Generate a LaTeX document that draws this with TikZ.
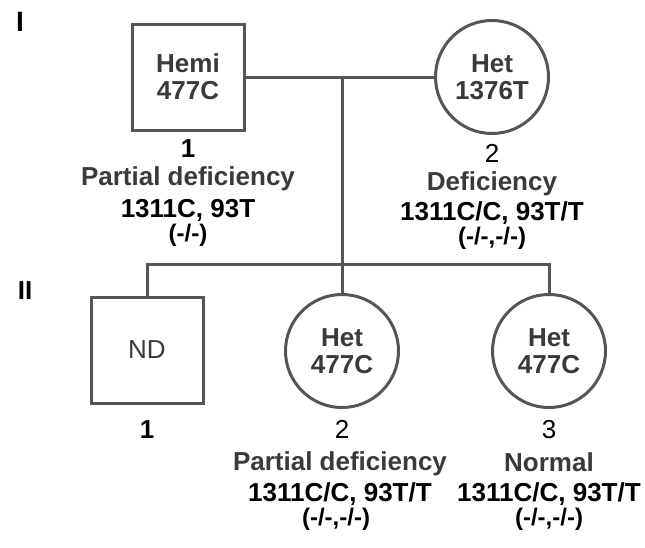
\documentclass[tikz,border=0pt]{standalone}
\usepackage{fontspec}
\setmainfont{Liberation Sans}
\usetikzlibrary{positioning,calc}
\definecolor{pedline}{HTML}{555555}
\definecolor{pedtext}{HTML}{3A3A3A}

\begin{document}
\begin{tikzpicture}[x=1pt,y=-1pt,
    font=\fontsize{26}{27}\selectfont\bfseries,
    ind/.style={draw=pedline, line width=3pt, inner sep=0pt, align=center, text=pedtext},
    male/.style={ind, rectangle, minimum width=112pt, minimum height=106pt},
    female/.style={ind, circle, minimum size=113pt},
    lab/.style={anchor=base, inner sep=0pt, text=pedtext},
    gen/.style={anchor=base, inner sep=0pt, text=black},
    alle/.style={gen, font=\fontsize{24}{26}\selectfont\bfseries},
    thin/.style={font=\fontsize{26}{27}\selectfont\mdseries},
    link/.style={draw=pedline, line width=3pt}]
            % Page frame
            \fill[white] (0,0) rectangle (645,547);
            \useasboundingbox (0,0) rectangle (645,547);

            % Generation labels
            \node[gen, font=\fontsize{28}{30}\selectfont\bfseries] (genI) at (20,31) {I};
            \node[gen] (genII) at (25,299) {II};

            % Parents
            \node[male] (p1) at (188,77) {Hemi\\477C};
            \node[female] (p2) at (492,77) {Het\\1376T};
            \coordinate (mate) at (342,77);
            \draw[link] (p1.east) -- (p2.west);

            % Children
            \node[male, thin, text=pedtext] (c1) at (147,350) {ND};
            \node[female] (c2) at (342,351) {Het\\477C};
            \node[female] (c3) at (549,351) {Het\\477C};
            \coordinate (sib) at (342,264);
            \draw[link] (mate) -- (c2.north);
            \draw[link] (c1.north) -- (c1.north |- sib) -- (c3.north |- sib) -- (c3.north);

            % Parent labels
            \node[gen] (p1n) at (188,157) {1};
            \node[lab] (p1d) at (188,185) {Partial deficiency};
            \node[gen] (p1g) at (188,217) {1311C, 93T};
            \node[alle] (p1h) at (188,241) {(-/-)};
            \node[gen, thin] (p2n) at (492,162) {2};
            \node[lab] (p2d) at (492,190) {Deficiency};
            \node[gen] (p2g) at (492,220) {1311C/C, 93T/T};
            \node[alle] (p2h) at (492,244) {(-/-,-/-)};

            % Child labels
            \node[gen] (c1n) at (147,438) {1};
            \node[gen, thin] (c2n) at (342,438) {2};
            \node[lab] (c2d) at (340,470) {Partial deficiency};
            \node[gen] (c2g) at (340,501) {1311C/C, 93T/T};
            \node[alle] (c2h) at (336,525) {(-/-,-/-)};
            \node[gen, thin] (c3n) at (549,438) {3};
            \node[lab] (c3d) at (549,471) {Normal};
            \node[gen] (c3g) at (549,501) {1311C/C, 93T/T};
            \node[alle] (c3h) at (549,525) {(-/-,-/-)};
\end{tikzpicture}
\end{document}
